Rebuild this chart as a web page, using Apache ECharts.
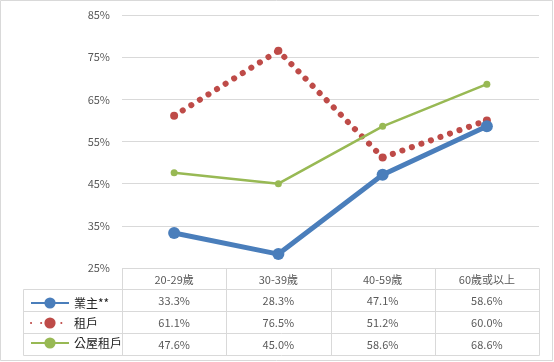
<!DOCTYPE html>
<html><head><meta charset="utf-8">
<script src="https://cdn.jsdelivr.net/npm/echarts@6/dist/echarts.min.js"></script>
<style>html,body{margin:0;padding:0;background:#fff}#c{width:554px;height:362px}</style>
</head><body><div id="c"></div>
<script>
const categories = ['20-29歲', '30-39歲', '40-59歲', '60歲或以上'];
const seriesNames = ['業主**', '租戶', '公屋租戶'];
const owners = [33.3, 28.3, 47.1, 58.6];
const tenants = [61.1, 76.5, 51.2, 60.0];
const publicTenants = [47.6, 45.0, 58.6, 68.6];
const yTicks = [25, 35, 45, 55, 65, 75, 85];

const FONT = '"Noto Sans CJK TC", "Noto Sans", sans-serif';
const TXT = '#595959';
const LINE = '#d9d9d9';
const colors = ['#4a7ebb', '#be4b48', '#98b954'];
const allData = [owners, tenants, publicTenants];

const chart = echarts.init(document.getElementById('c'), null, {renderer: 'canvas'});
const option = {
  animation: false,
  backgroundColor: '#fff',
  grid: {left: 122, right: 15, top: 15, bottom: 94},
  xAxis: {
    type: 'category', data: categories, boundaryGap: true,
    axisLine: {show: false}, axisTick: {show: false},
    axisLabel: {color: TXT, fontFamily: FONT, fontSize: 11, margin: 6}
  },
  yAxis: {
    type: 'value', min: yTicks[0], max: yTicks[yTicks.length - 1], interval: 10,
    axisLine: {show: false}, axisTick: {show: false},
    axisLabel: {color: TXT, fontFamily: FONT, fontSize: 11, margin: 12, formatter: v => v + '%'},
    splitLine: {lineStyle: {color: LINE, width: 1}}
  },
  legend: {
    orient: 'vertical', left: 25, top: 292, itemGap: 8, itemWidth: 38, itemHeight: 14,
    textStyle: {color: '#222', fontFamily: FONT, fontSize: 12},
    data: seriesNames
  },
  series: [
    {name: seriesNames[0], type: 'line', data: owners, symbol: 'circle', symbolSize: 12,
     lineStyle: {color: colors[0], width: 5}, itemStyle: {color: colors[0]}, z: 3},
    {name: seriesNames[1], type: 'line', data: tenants, symbol: 'circle', symbolSize: 8,
     lineStyle: {color: colors[1], width: 6, type: [0.1, 10], cap: 'round'}, itemStyle: {color: colors[1]}, z: 2},
    {name: seriesNames[2], type: 'line', data: publicTenants, symbol: 'circle', symbolSize: 7,
     lineStyle: {color: colors[2], width: 2.5}, itemStyle: {color: colors[2]}, z: 2}
  ]
};
chart.setOption(option);

// Data table drawn below the plot, positioned via the axes
const xs = categories.map(c => chart.convertToPixel({xAxisIndex: 0}, c));
const band = xs.length > 1 ? xs[1] - xs[0] : 100;
const yTop = Math.round(chart.convertToPixel({yAxisIndex: 0}, yTicks[0]));
const rowH = 22;
const leftX = 23;
const colEdges = [xs[0] - band / 2].concat(xs.map(x => x + band / 2)).map(Math.round);
const headerBottom = yTop + 21;
const bottom = headerBottom + rowH * allData.length;
const els = [];
const line = (x1, y1, x2, y2) => els.push({type: 'line', silent: true,
  shape: {x1: x1 + 0.5, y1: y1 + 0.5, x2: x2 + 0.5, y2: y2 + 0.5}, style: {stroke: LINE, lineWidth: 1}});
line(colEdges[0], yTop, colEdges[colEdges.length - 1], yTop);
for (let r = 0; r <= allData.length; r++) {
  const y = headerBottom + r * rowH;
  line(leftX, y, colEdges[colEdges.length - 1], y);
}
line(leftX, headerBottom, leftX, bottom);
colEdges.forEach(x => line(x, yTop, x, bottom));
allData.forEach((arr, r) => {
  arr.forEach((v, i) => {
    els.push({type: 'text', silent: true, x: xs[i], y: headerBottom + r * rowH + rowH / 2 + 1,
      style: {text: v.toFixed(1) + '%', fill: TXT, font: '11px ' + FONT, align: 'center', verticalAlign: 'middle'}});
  });
});
els.push({type: 'rect', silent: true, shape: {x: 0.5, y: 0.5, width: 552, height: 360},
  style: {fill: null, stroke: LINE, lineWidth: 1}});
chart.setOption({graphic: els});
</script>
</body></html>
